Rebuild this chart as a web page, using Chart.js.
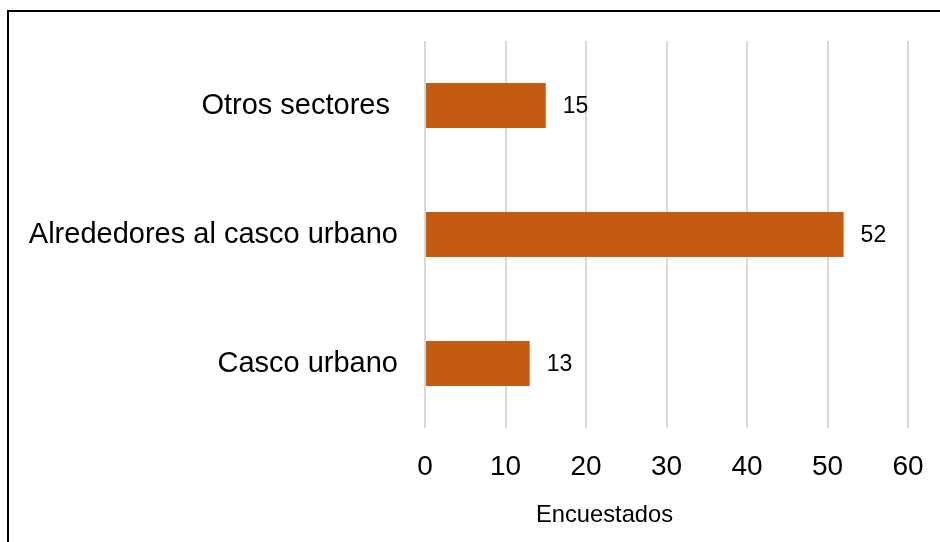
<!DOCTYPE html>
<html>
<head>
<meta charset="utf-8">
<title>Encuestados por sector</title>
<script src="https://cdn.jsdelivr.net/npm/chart.js@4.4.1/dist/chart.umd.min.js"></script>
<style>
  html, body { margin: 0; padding: 0; background: #fff; }
  #wrap { position: relative; width: 940px; height: 542px; overflow: hidden; }
  #frame {
    position: absolute; left: 7px; top: 10px; width: 960px; height: 560px;
    border-left: 2px solid #000; border-top: 2px solid #000;
    box-sizing: border-box; pointer-events: none;
  }
  #sectorChart { position: absolute; left: 0; top: 0; }
</style>
</head>
<body>
<div id="wrap">
  <canvas id="sectorChart" width="940" height="542"></canvas>
  <div id="frame"></div>
</div>
<script>
// datos de la encuesta
const sectores = ['Otros sectores ', 'Alrededores al casco urbano', 'Casco urbano'];
const encuestados = [15, 52, 13];
const ticksX = [0, 10, 20, 30, 40, 50, 60];
const tituloX = 'Encuestados';

const FONT = "'Liberation Sans', Arial, sans-serif";
const NARANJA = '#C55A11';

// etiquetas de valor al final de cada barra
const valoresPlugin = {
    id: 'valores',
    afterDatasetsDraw(chart) {
        const ctx = chart.ctx;
        const meta = chart.getDatasetMeta(0);
        ctx.save();
        ctx.font = '23px ' + FONT;
        ctx.fillStyle = '#000';
        ctx.textAlign = 'left';
        ctx.textBaseline = 'middle';
        meta.data.forEach((bar, i) => {
            ctx.fillText(String(encuestados[i]), bar.x + 17, bar.y + 1);
        });
        ctx.restore();
    }
};

// titulo del eje horizontal
const tituloPlugin = {
    id: 'tituloEje',
    afterDraw(chart) {
        const ctx = chart.ctx;
        const x = chart.scales.x;
        ctx.save();
        ctx.font = '23.7px ' + FONT;
        ctx.fillStyle = '#000';
        ctx.textAlign = 'center';
        ctx.textBaseline = 'alphabetic';
        ctx.fillText(tituloX, x.getPixelForValue(22.3), 522);
        ctx.restore();
    }
};

const ctx = document.getElementById('sectorChart').getContext('2d');

new Chart(ctx, {
    type: 'bar',
    data: {
        labels: sectores,
        datasets: [{
            label: tituloX,
            data: encuestados,
            backgroundColor: NARANJA,
            borderWidth: 0,
            categoryPercentage: 1,
            barPercentage: 0.35
        }]
    },
    options: {
        indexAxis: 'y',
        responsive: false,
        animation: false,
        layout: { padding: { top: 41, right: 32, left: 0, bottom: 0 } },
        plugins: {
            legend: { display: false },
            tooltip: { enabled: false }
        },
        scales: {
            x: {
                min: 0,
                max: 60,
                afterBuildTicks(scale) {
                    scale.ticks = ticksX.map(v => ({ value: v }));
                },
                afterFit(scale) {
                    scale.height = 114;
                    scale.paddingLeft = 0;
                    scale.paddingRight = 0;
                },
                grid: { color: '#d9d9d9', lineWidth: 2, drawTicks: false },
                border: { display: false },
                ticks: {
                    color: '#000',
                    padding: 22,
                    font: { family: FONT, size: 28 }
                }
            },
            y: {
                afterFit(scale) {
                    scale.width = 425;
                    scale.paddingTop = 0;
                    scale.paddingBottom = 0;
                },
                grid: { display: false, drawTicks: false },
                border: { display: false },
                ticks: {
                    color: '#000',
                    padding: 27,
                    font: { family: FONT, size: 29 }
                }
            }
        }
    },
    plugins: [valoresPlugin, tituloPlugin]
});
</script>
</body>
</html>
